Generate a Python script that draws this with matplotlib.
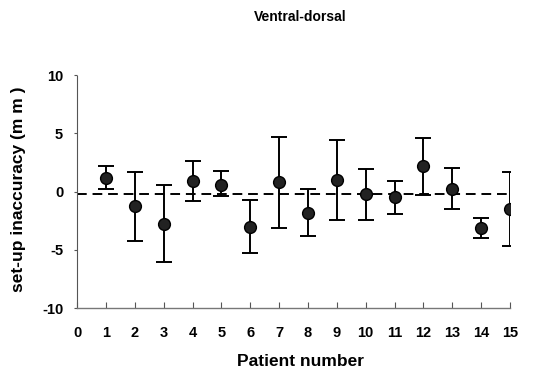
import matplotlib
matplotlib.use("Agg")
import matplotlib.pyplot as plt

patients = list(range(1, 16))
mean_mm = [1.2, -1.2, -2.8, 0.9, 0.6, -3.0, 0.8, -1.8, 1.0, -0.2, -0.5, 2.2, 0.2, -3.1, -1.5]
err_up = [1.0, 2.9, 3.35, 1.7, 1.2, 2.25, 3.85, 2.05, 3.4, 2.15, 1.4, 2.4, 1.8, 0.85, 3.2]
err_down = [1.0, 3.0, 3.25, 1.7, 0.95, 2.25, 3.9, 2.05, 3.45, 2.25, 1.4, 2.5, 1.7, 0.85, 3.15]
overall_mean = -0.2
xticks = list(range(0, 16))
yticks = [-10, -5, 0, 5, 10]

plt.rcParams['font.family'] = ['Liberation Sans', 'DejaVu Sans']
fig = plt.figure(figsize=(5.33, 3.79), dpi=100)
ax = fig.add_axes([0.1445, 0.187, 0.8125, 0.615])

ax.plot([0, 15], [overall_mean, overall_mean], color='black', lw=1.4,
        dashes=(5, 3), zorder=1)
ax.errorbar(patients, mean_mm, yerr=[err_down, err_up], fmt='o', color='black',
            ecolor='black', elinewidth=1.4, capsize=6, capthick=1.4,
            markersize=8.5, markerfacecolor='#222222', markeredgecolor='black', zorder=3)

ax.set_xlim(0, 15)
ax.set_ylim(-10, 10)
ax.set_xticks(xticks)
ax.set_yticks(yticks)
ax.set_xticklabels([str(t) for t in xticks], fontweight='bold', fontsize=10.5)
ax.set_yticklabels([str(t) for t in yticks], fontweight='bold', fontsize=10.5)
ax.tick_params(axis='x', direction='in', length=4, width=0.8, color='#555555', pad=13)
ax.tick_params(axis='y', direction='out', length=2, width=0.8, color='#555555', pad=8)

for s in ['top', 'right']:
    ax.spines[s].set_visible(False)
ax.spines['left'].set_linestyle((0, (1, 1)))
ax.spines['left'].set_color('#555555')
ax.spines['left'].set_linewidth(0.8)
ax.spines['bottom'].set_color('#777777')
ax.spines['bottom'].set_linewidth(1.0)

fig.text(0.563, 0.955, 'Ventral-dorsal', ha='center', va='center',
         fontweight='bold', fontsize=10)
fig.text(0.563, 0.045, 'Patient number', ha='center', va='center',
         fontweight='bold', fontsize=12.5)
fig.text(0.035, 0.50, 'set-up inaccuracy (m m )', ha='center', va='center',
         rotation=90, fontweight='bold', fontsize=12.5)

fig.savefig('out.png', dpi=100)
